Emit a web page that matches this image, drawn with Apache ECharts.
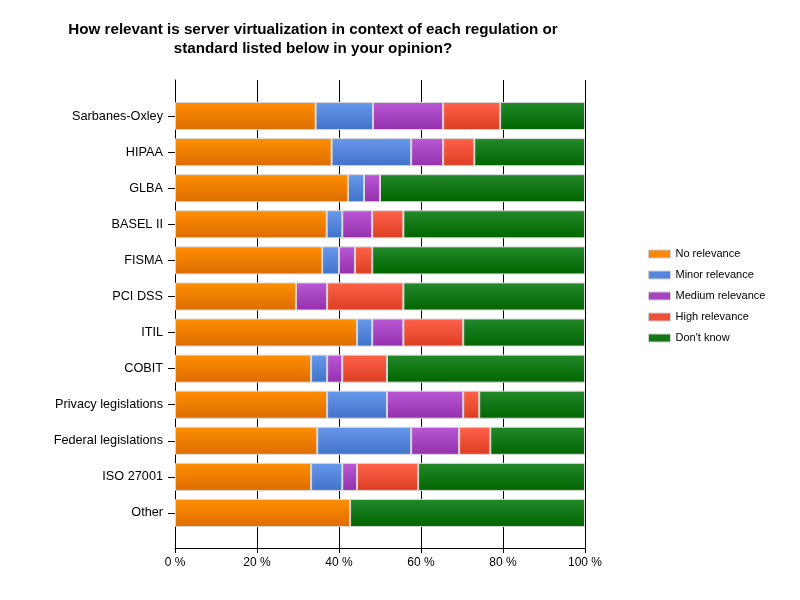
<!DOCTYPE html>
<html>
<head>
<meta charset="utf-8">
<script src="https://cdn.jsdelivr.net/npm/echarts@6/dist/echarts.min.js"></script>
<style>
  html, body { margin: 0; padding: 0; background: #fff; }
  #chart-container { width: 800px; height: 600px; }
</style>
</head>
<body>
<div id="chart-container"></div>
<script>
// categories, top to bottom
var categories = [
  "Sarbanes-Oxley", "HIPAA", "GLBA", "BASEL II", "FISMA", "PCI DSS",
  "ITIL", "COBIT", "Privacy legislations", "Federal legislations",
  "ISO 27001", "Other"
];
var seriesNames = ["No relevance", "Minor relevance", "Medium relevance", "High relevance", "Don't know"];

// share of answers in %
var noRelevance     = [34.3, 38.2, 42.2, 37.0, 35.9, 29.5, 44.4, 33.2, 37.1, 34.7, 33.2, 42.7];
var minorRelevance  = [14.0, 19.4,  3.9,  3.8,  4.1,  0.0,  3.7,  3.9, 14.6, 22.9,  7.6,  0.0];
var mediumRelevance = [17.1,  7.8,  3.9,  7.3,  3.9,  7.6,  7.6,  3.7, 18.6, 11.7,  3.6,  0.0];
var highRelevance   = [13.9,  7.6,  0.0,  7.6,  4.2, 18.6, 14.6, 10.9,  3.9,  7.6, 14.9,  0.0];
var dontKnow        = [20.7, 27.0, 50.0, 44.3, 51.9, 44.3, 29.7, 48.3, 25.8, 23.1, 40.7, 57.3];

var xTicks = [0, 20, 40, 60, 80, 100];

// top / bottom colour of each gradient, legend colour
var colors = [
  ["#ff8f00", "#dd6c00", "#f7880a"],
  ["#6898ea", "#3f72c9", "#5686dc"],
  ["#ba58d6", "#9430ac", "#a844c2"],
  ["#ff6249", "#dc3e22", "#ee5036"],
  ["#23892a", "#006500", "#147616"]
];

var values = [noRelevance, minorRelevance, mediumRelevance, highRelevance, dontKnow];

var dom = document.getElementById("chart-container");
var myChart = echarts.init(dom, null, { renderer: "canvas" });

var font = "Liberation Sans, Arial, sans-serif";

var series = seriesNames.map(function (name, i) {
  return {
    name: name,
    type: "bar",
    stack: "total",
    xAxisIndex: 1,
    yAxisIndex: 1,
    barWidth: 28,
    itemStyle: {
      color: new echarts.graphic.LinearGradient(0, 0, 0, 1, [
        { offset: 0, color: colors[i][0] },
        { offset: 1, color: colors[i][1] }
      ]),
      borderColor: "#d6d6d6",
      borderWidth: 1
    },
    emphasis: { disabled: true },
    data: values[i].map(function (v) { return v === 0 ? "-" : v; })
  };
});

var option = {
  animation: false,
  title: {
    text: "How relevant is server virtualization in context of each regulation or\nstandard listed below in your opinion?",
    left: 308,
    top: 15,
    textAlign: "center",
    textStyle: {
      fontFamily: font,
      fontSize: 15.2,
      fontWeight: "bold",
      color: "#000",
      lineHeight: 19
    }
  },
  legend: {
    orient: "vertical",
    left: 643,
    top: 242,
    itemWidth: 22,
    itemHeight: 8,
    itemGap: 7,
    icon: "rect",
    selectedMode: false,
    textStyle: { fontFamily: font, fontSize: 11, color: "#000", lineHeight: 14 },
    data: seriesNames.map(function (n, i) {
      return { name: n, itemStyle: { color: colors[i][2], borderColor: "#cfcfcf", borderWidth: 1 } };
    })
  },
  grid: [
    { left: 175, right: 215, top: 80, bottom: 52 },
    { left: 175, right: 215, top: 98, bottom: 69 }
  ],
  xAxis: [
    {
      gridIndex: 0,
      type: "value",
      min: xTicks[0],
      max: xTicks[xTicks.length - 1],
      interval: 20,
      axisLine: { show: true, lineStyle: { color: "#000", width: 1 } },
      axisTick: { show: true, length: 5, lineStyle: { color: "#000" } },
      splitLine: { show: true, lineStyle: { color: "#000", width: 1 } },
      axisLabel: {
        fontFamily: font,
        fontSize: 12,
        color: "#000",
        margin: 9,
        formatter: "{value} %"
      }
    },
    {
      gridIndex: 1,
      type: "value",
      min: 0,
      max: 100,
      show: false
    }
  ],
  yAxis: [
    {
      gridIndex: 0,
      type: "value",
      min: 0,
      max: 1,
      axisLine: { show: true, lineStyle: { color: "#000", width: 1 } },
      axisTick: { show: false },
      axisLabel: { show: false },
      splitLine: { show: false }
    },
    {
      gridIndex: 1,
      type: "category",
      inverse: true,
      data: categories,
      axisLine: { show: false },
      axisTick: { show: true, length: 7, alignWithLabel: true, lineStyle: { color: "#000" } },
      axisLabel: { fontFamily: font, fontSize: 12.7, color: "#000", margin: 12 }
    }
  ],
  series: series
};

myChart.setOption(option);
window.onresize = function () {
  myChart.resize();
};
</script>
</body>
</html>
